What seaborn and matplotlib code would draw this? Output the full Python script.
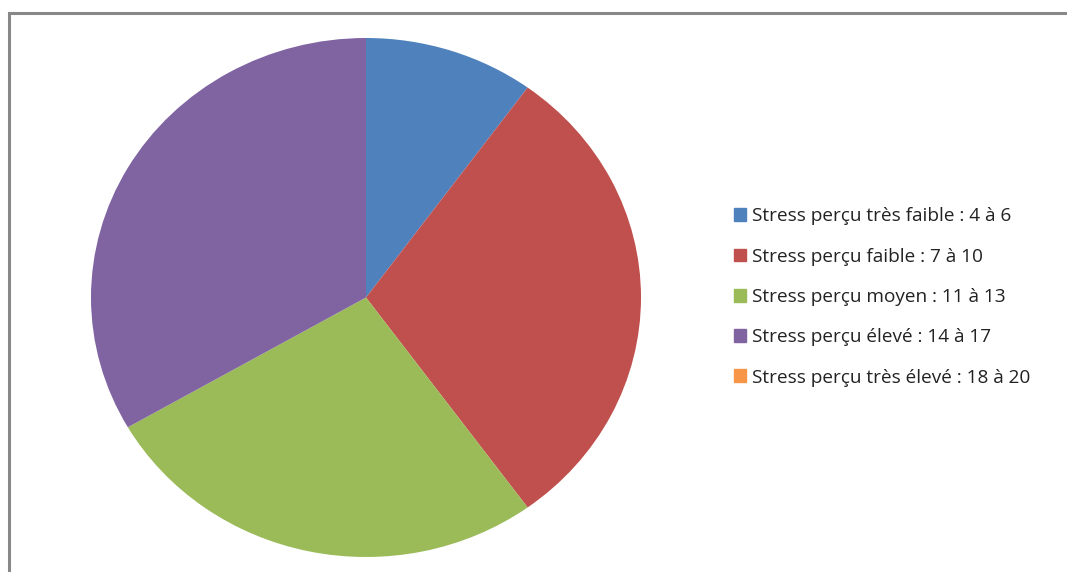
import matplotlib
matplotlib.use("Agg")
import matplotlib.pyplot as plt
import matplotlib.patches as mpatches
import seaborn as sns

# Données
categories = [
    "Stress perçu très faible : 4 à 6",
    "Stress perçu faible : 7 à 10",
    "Stress perçu moyen : 11 à 13",
    "Stress perçu élevé : 14 à 17",
    "Stress perçu très élevé : 18 à 20",
]
effectifs = [3, 9, 8, 10, 0]
couleurs = ["#4F81BD", "#C0504D", "#9BBB59", "#8064A2", "#F79646"]

sns.set_theme(style="white")
plt.rcParams['font.family'] = ['Open Sans', 'DejaVu Sans']

W, H = 1067, 572
fig = plt.figure(figsize=(W / 100, H / 100), dpi=100)
fig.patch.set_facecolor("white")

# cadre gris (bord gauche et haut visibles)
cadre = mpatches.Rectangle((9 / W, -0.1), 1.2, 1 - 13 / H + 0.1,
                           transform=fig.transFigure, fill=False,
                           edgecolor="#888888", linewidth=2.2, zorder=0)
fig.patches.append(cadre)

ax = fig.add_axes([91 / W, 15 / H, 550 / W, 519 / H])
wedges, _ = ax.pie(effectifs, colors=couleurs, startangle=90, counterclock=False,
                   radius=1, wedgeprops=dict(linewidth=0))
ax.set_aspect("auto")
ax.set_xlim(-1, 1)
ax.set_ylim(-1, 1)
ax.axis("off")

handles = [mpatches.Patch(color=c) for c in couleurs]
fig.legend(handles, categories, loc="center left",
           bbox_to_anchor=(717 / W, (H - 297) / H), frameon=False,
           fontsize=13.7, handlelength=0.65, handleheight=0.65,
           handletextpad=0.3, labelspacing=1.17, labelcolor="#222222")

fig.savefig("out.png", dpi=100)
